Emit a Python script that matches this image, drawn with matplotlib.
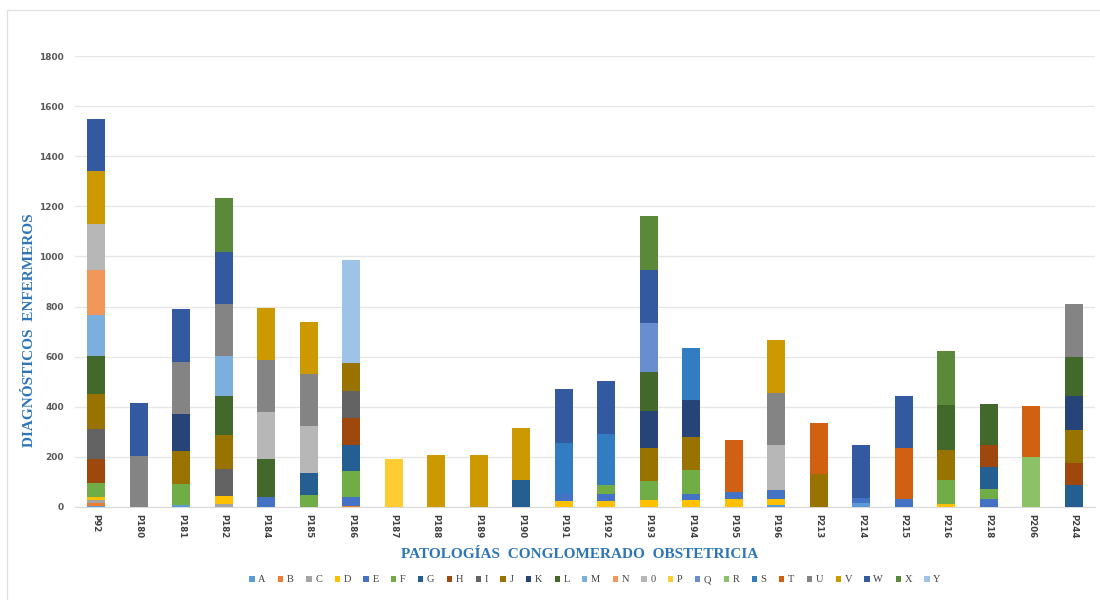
import matplotlib
matplotlib.use('Agg')
import matplotlib.pyplot as plt
from matplotlib.patches import Rectangle
import numpy as np

# categories (x axis)
patologias = ['P92', 'P180', 'P181', 'P182', 'P184', 'P185', 'P186', 'P187',
              'P188', 'P189', 'P190', 'P191', 'P192', 'P193', 'P194', 'P195',
              'P196', 'P213', 'P214', 'P215', 'P216', 'P218', 'P206', 'P244']

series_names = ['A', 'B', 'C', 'D', 'E', 'F', 'G', 'H', 'I', 'J', 'K', 'L', 'M',
                'N', '0', 'P', 'Q', 'R', 'S', 'T', 'U', 'V', 'W', 'X', 'Y']

series_colors = ['#5B9BD5', '#ED7D31', '#A5A5A5', '#FFC000', '#4472C4', '#70AD47',
                 '#255E91', '#9E480E', '#636363', '#997300', '#264478', '#43682B',
                 '#7CAFDD', '#F1975A', '#B7B7B7', '#FFCD33', '#698ED0', '#8CC168',
                 '#327DC2', '#D26012', '#848484', '#CC9A00', '#335AA1', '#5A8A39',
                 '#9DC3E6']

# values per patología, series (missing = 0)
valores = {
    'P92':  {'A': 5, 'B': 10, 'C': 12, 'D': 12, 'F': 58, 'H': 94, 'I': 122, 'J': 138,
             'L': 153, 'M': 163, 'N': 180, '0': 184, 'V': 209, 'W': 209},
    'P180': {'U': 204, 'W': 212},
    'P181': {'A': 6, 'F': 87, 'J': 130, 'K': 150, 'U': 204, 'W': 212},
    'P182': {'C': 13, 'D': 30, 'I': 110, 'J': 134, 'L': 156, 'M': 160, 'U': 208,
             'W': 205, 'X': 217},
    'P184': {'E': 40, 'L': 153, '0': 187, 'U': 207, 'V': 206},
    'P185': {'F': 49, 'G': 88, '0': 187, 'U': 205, 'V': 211},
    'P186': {'B': 3, 'E': 37, 'F': 103, 'G': 106, 'H': 107, 'I': 108, 'J': 111, 'Y': 412},
    'P187': {'P': 193},
    'P188': {'V': 209},
    'P189': {'V': 209},
    'P190': {'G': 109, 'V': 207},
    'P191': {'D': 24, 'E': 29, 'S': 204, 'W': 212},
    'P192': {'D': 24, 'E': 29, 'F': 34, 'S': 204, 'W': 210},
    'P193': {'D': 27, 'F': 77, 'J': 133, 'K': 147, 'L': 153, 'Q': 199, 'W': 211, 'X': 216},
    'P194': {'D': 27, 'E': 26, 'F': 94, 'J': 133, 'K': 147, 'S': 206},
    'P195': {'D': 32, 'E': 27, 'T': 208},
    'P196': {'A': 8, 'D': 24, 'E': 35, '0': 182, 'U': 207, 'V': 211},
    'P213': {'J': 133, 'T': 204},
    'P214': {'A': 16, 'E': 21, 'W': 211},
    'P215': {'E': 32, 'T': 205, 'W': 207},
    'P216': {'D': 13, 'F': 94, 'J': 122, 'L': 178, 'X': 217},
    'P218': {'E': 32, 'F': 41, 'G': 87, 'H': 88, 'L': 164},
    'P206': {'R': 200, 'T': 204},
    'P244': {'G': 87, 'H': 89, 'J': 131, 'K': 136, 'L': 157, 'U': 211},
}

y_ticks = [0, 200, 400, 600, 800, 1000, 1200, 1400, 1600, 1800]

azul = '#2E75B6'

fig = plt.figure(figsize=(11, 6), dpi=100)
ax = fig.add_axes([75 / 1100, 1 - 507 / 600, 1020 / 1100, (507 - 56) / 600])

x = np.arange(len(patologias))
bottom = np.zeros(len(patologias))
for name, color in zip(series_names, series_colors):
    vals = np.array([valores[p].get(name, 0) for p in patologias], dtype=float)
    ax.bar(x, vals, width=0.42, bottom=bottom, color=color, label=name, zorder=3)
    bottom += vals

ax.set_xlim(-0.5, len(patologias) - 0.5)
ax.set_ylim(0, 1800)
ax.set_yticks(y_ticks)
ax.set_yticklabels([str(v) for v in y_ticks], fontsize=6.5, color='#595959',
                   fontweight='bold')
ax.set_xticks(x)
ax.set_xticklabels(patologias, rotation=270, fontsize=6.2, color='#404040',
                   fontweight='bold', va='top', ha='center')
ax.tick_params(axis='y', length=0, pad=8)
ax.tick_params(axis='x', length=0, pad=5)
ax.grid(axis='y', color='#E6E6E6', linewidth=0.9, zorder=0)
for s in ['top', 'right', 'left']:
    ax.spines[s].set_visible(False)
ax.spines['bottom'].set_color('#D9D9D9')

fig.text(30 / 1100, 1 - 330 / 600, 'DIAGNÓSTICOS  ENFERMEROS', rotation=90,
         ha='center', va='center', color=azul, fontsize=11, fontweight='bold',
         family='Liberation Serif')
fig.text(580 / 1100, 1 - 554 / 600, 'PATOLOGÍAS  CONGLOMERADO  OBSTETRICIA',
         ha='center', va='center', color=azul, fontsize=11, fontweight='bold',
         family='Liberation Serif')

leg = fig.legend(loc='center', bbox_to_anchor=(595 / 1100, 1 - 580 / 600),
                 ncol=len(series_names), frameon=False, handlelength=0.5,
                 handleheight=0.5, handletextpad=0.35, columnspacing=1.2,
                 prop={'family': 'Liberation Serif', 'size': 7.5})
for t in leg.get_texts():
    t.set_color('#404040')

fig.patches.append(Rectangle((7 / 1100, -0.05), 1.2, 1 - 10 / 600 + 0.05,
                             transform=fig.transFigure, fill=False,
                             edgecolor='#E0E0E0', linewidth=0.9))

fig.savefig('out.png', dpi=100, facecolor='white')
